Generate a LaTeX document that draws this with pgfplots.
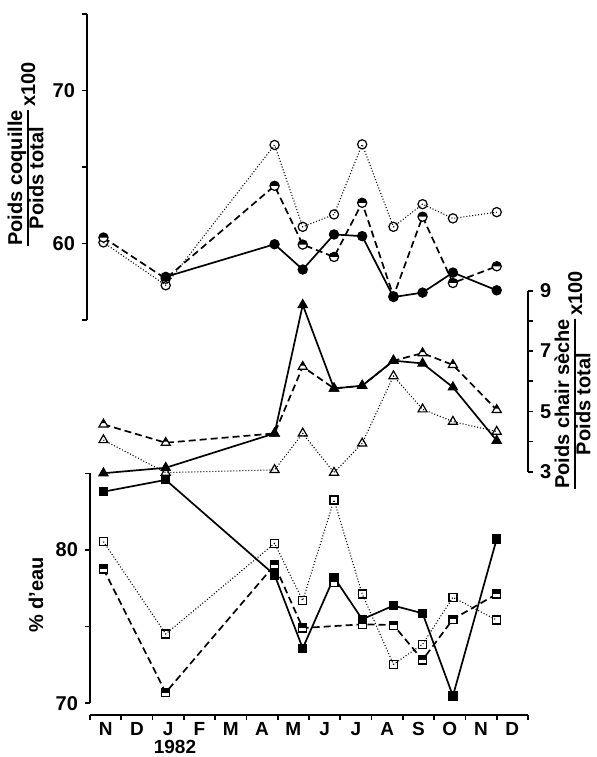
\documentclass[border=0pt]{standalone}
\usepackage{pgfplots}
\pgfplotsset{compat=1.18}
\usetikzlibrary{plotmarks}
\usepackage{fontspec}
\setmainfont{Liberation Sans}

% half-filled marks (upper half black)
\pgfdeclareplotmark{hcirc}{%
  \pgfpathcircle{\pgfpointorigin}{\pgfplotmarksize}%
  \pgfsetfillcolor{white}\pgfusepathqfillstroke
  \pgfpathmoveto{\pgfpoint{\pgfplotmarksize}{0pt}}%
  \pgfpatharc{0}{180}{\pgfplotmarksize}\pgfpathclose
  \pgfsetfillcolor{black}\pgfusepathqfill}
\pgfdeclareplotmark{hsq}{%
  \pgfpathrectangle{\pgfpoint{-\pgfplotmarksize}{-\pgfplotmarksize}}{\pgfpoint{2\pgfplotmarksize}{2\pgfplotmarksize}}%
  \pgfsetfillcolor{white}\pgfusepathqfillstroke
  \pgfpathrectangle{\pgfpoint{-\pgfplotmarksize}{0pt}}{\pgfpoint{2\pgfplotmarksize}{\pgfplotmarksize}}%
  \pgfsetfillcolor{black}\pgfusepathqfill}
\pgfdeclareplotmark{htri}{%
  \pgfpathmoveto{\pgfpoint{0pt}{\pgfplotmarksize}}%
  \pgfpathlineto{\pgfpoint{-0.866\pgfplotmarksize}{-0.5\pgfplotmarksize}}%
  \pgfpathlineto{\pgfpoint{0.866\pgfplotmarksize}{-0.5\pgfplotmarksize}}\pgfpathclose
  \pgfsetfillcolor{white}\pgfusepathqfillstroke
  \pgfpathmoveto{\pgfpoint{0pt}{\pgfplotmarksize}}%
  \pgfpathlineto{\pgfpoint{-0.45\pgfplotmarksize}{0.22\pgfplotmarksize}}%
  \pgfpathlineto{\pgfpoint{0.45\pgfplotmarksize}{0.22\pgfplotmarksize}}\pgfpathclose
  \pgfsetfillcolor{black}\pgfusepathqfill}

\pgfplotsset{
  every axis/.append style={
    scale only axis, clip=false,
    axis line style={line width=1pt},
    tick style={line width=0.8pt, black},
    tick align=outside,
    major tick length=2.5pt,
    ticklabel style={font=\fontsize{10}{12}\selectfont\bfseries},
    /pgf/number format/assume math mode=true,
  },
  solidS/.style={black, line width=0.85pt, mark options={solid, fill=black, line width=0.6pt}},
  dashS/.style={black, line width=0.85pt, dash pattern=on 3.5pt off 2pt, mark options={solid, line width=0.6pt}},
  dotS/.style={black, line width=0.55pt, dash pattern=on 0.5pt off 1pt, mark options={solid, fill=white, line width=0.6pt}},
}

\begin{document}
\begin{tikzpicture}
\useasboundingbox (0,0) rectangle (298.5pt,378.5pt);

% ---------- top panel: Poids coquille / Poids total ----------
\begin{axis}[at={(43.5pt,218.5pt)}, anchor=south west,
  width=220.5pt, height=153pt,
  xmin=-0.0958, xmax=14, ymin=55, ymax=75,
  axis x line=none, axis y line*=left,
  ytick={55,60,65,70,75}, yticklabels={,60,,70,}]
\addplot[dotS, mark=o, mark size=2.3pt] coordinates {
 (0.43,60.07) (2.42,57.27) (5.9,66.44) (6.8,61.09) (7.8,61.9) (8.7,66.48) (9.7,61.09) (10.63,62.57) (11.6,61.64) (13.0,62.05)};
\addplot[dashS, mark=hcirc, mark size=2.3pt] coordinates {
 (0.43,60.39) (2.42,57.7) (5.9,63.77) (6.8,59.93) (7.8,59.12) (8.7,62.66) (9.7,56.55) (10.63,61.75) (11.6,57.42) (13.0,58.51)};
\addplot[solidS, mark=*, mark size=2.3pt] coordinates {
 (2.42,57.82) (5.9,59.95) (6.8,58.3) (7.8,60.59) (8.7,60.48) (9.7,56.5) (10.63,56.79) (11.6,58.1) (13.0,56.94)};
\end{axis}

% ---------- middle panel: Poids chair seche / Poids total ----------
\begin{axis}[at={(45pt,142.65pt)}, anchor=south west,
  width=219pt, height=90.5pt,
  xmin=0, xmax=14, ymin=3, ymax=9,
  axis x line=none, axis y line*=right,
  ytick={3,4,5,6,7,8,9}, yticklabels={3,,5,,7,,9}]
\addplot[dotS, mark=triangle, mark size=2.6pt] coordinates {
 (0.43,4.05) (2.42,2.97) (5.9,3.06) (6.8,4.27) (7.8,2.97) (8.7,3.94) (9.7,6.17) (10.63,5.07) (11.6,4.66) (13.0,4.33)};
\addplot[dashS, mark=htri, mark size=2.6pt] coordinates {
 (0.43,4.57) (2.42,3.96) (5.9,4.27) (6.8,6.48) (7.8,5.76) (8.7,5.85) (9.7,6.68) (10.63,6.93) (11.6,6.54) (13.0,5.05)};
\addplot[solidS, mark=triangle*, mark size=2.6pt] coordinates {
 (0.43,2.95) (2.42,3.13) (5.9,4.27) (6.8,8.53) (7.8,5.76) (8.7,5.85) (9.7,6.68) (10.63,6.59) (11.6,5.80) (13.0,4.03)};
\end{axis}

% ---------- bottom panel: % d'eau ----------
\begin{axis}[at={(45pt,26.85pt)}, anchor=south west,
  width=219pt, height=115pt,
  xmin=0, xmax=14, ymin=70, ymax=85,
  axis x line=none, axis y line*=left,
  ytick={70,75,80,85}, yticklabels={70,,80,}]
\addplot[dotS, mark=square, mark size=2pt] coordinates {
 (0.43,80.54) (2.42,74.52) (5.9,80.43) (6.8,76.7) (7.8,83.26) (8.7,77.13) (9.7,72.54) (10.63,73.85) (11.6,76.91) (13.0,75.43)};
\addplot[dashS, mark=hsq, mark size=2pt] coordinates {
 (0.43,78.76) (2.42,70.7) (5.9,79.02) (6.8,74.91) (8.7,75.15) (9.7,75.1) (10.63,72.83) (11.6,75.48) (13.0,77.13)};
\addplot[only marks, mark=hsq, mark size=2pt, mark options={line width=0.6pt}] coordinates {(7.8,77.9)};
\addplot[solidS, mark=square*, mark size=2pt] coordinates {
 (0.43,83.8) (2.42,84.57) (5.9,78.37) (6.8,73.59) (7.8,78.22) (8.7,75.48) (9.7,76.37) (10.63,75.87) (11.6,70.48) (13.0,80.72)};
\end{axis}

% ---------- x axis (months) ----------
\begin{axis}[at={(45pt,21pt)}, anchor=south west,
  width=219pt, height=10pt,
  xmin=0, xmax=14, ymin=0, ymax=1,
  axis y line=none, axis x line*=bottom,
  xtick={0.5,1.5,...,13.5},
  xticklabels={N,D,J,F,M,A,M,J,J,A,S,O,N,D},
  major tick length=0pt,
  minor xtick={0,1,...,14},
  minor tick length=2.5pt,
  xticklabel style={font=\fontsize{9.5}{11}\selectfont\bfseries}]
\end{axis}

\node[font=\fontsize{9.5}{11}\selectfont\bfseries, inner sep=0pt] at (87.5pt,5pt) {1982};

% ---------- axis titles ----------
\node[rotate=90, inner sep=0pt, font=\fontsize{10}{11}\selectfont\bfseries] at (14pt,301.5pt)
 {\setlength\arrayrulewidth{0.9pt}\renewcommand\arraystretch{0.75}\begin{tabular}{@{}c@{}}Poids coquille\\\hline Poids total\end{tabular}\,\raisebox{-1pt}{x100}};
\node[rotate=90, inner sep=0pt, font=\fontsize{10}{11}\selectfont\bfseries] at (287.5pt,188.5pt)
 {\setlength\arrayrulewidth{0.9pt}\renewcommand\arraystretch{0.75}\begin{tabular}{@{}c@{}}Poids chair sèche\\\hline Poids total\end{tabular}\,\raisebox{-1pt}{x100}};
\node[rotate=90, inner sep=0pt, font=\fontsize{10}{11}\selectfont\bfseries] at (18pt,81pt) {\% d'eau};
\end{tikzpicture}
\end{document}
